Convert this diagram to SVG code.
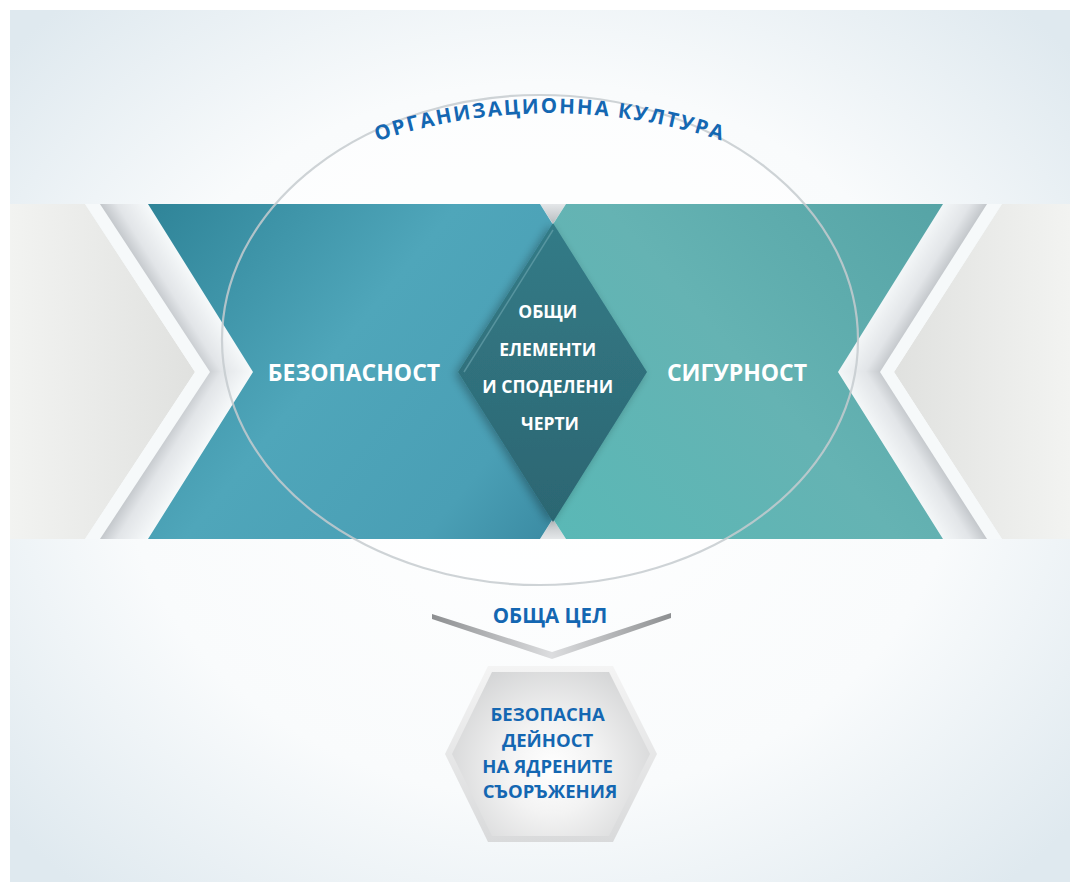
<svg xmlns="http://www.w3.org/2000/svg" width="1070" height="882" viewBox="0 0 1070 882">
  <defs>
    <style>
      .lbl { font-family: "Open Sans", "Noto Sans", "DejaVu Sans", sans-serif; font-weight: 700; }
      .white { fill: #ffffff; }
      .blue { fill: #1467b2; }
    </style>
    <radialGradient id="bg" cx="540" cy="440" r="700" gradientUnits="userSpaceOnUse" gradientTransform="translate(540 440) scale(1 0.85) translate(-540 -440)">
      <stop offset="0" stop-color="#ffffff"/>
      <stop offset="0.6" stop-color="#f9fbfc"/>
      <stop offset="1" stop-color="#dfe9ef"/>
    </radialGradient>
    <linearGradient id="greyL" x1="10" y1="0" x2="195" y2="0" gradientUnits="userSpaceOnUse">
      <stop offset="0" stop-color="#f2f3f1"/>
      <stop offset="1" stop-color="#e0e1df"/>
    </linearGradient>
    <linearGradient id="greyR" x1="1070" y1="0" x2="894" y2="0" gradientUnits="userSpaceOnUse">
      <stop offset="0" stop-color="#f2f3f1"/>
      <stop offset="1" stop-color="#e0e1df"/>
    </linearGradient>
    <!-- shaded ribbon halves, gradient runs across each slanted edge -->
    <linearGradient id="shLU" x1="100" y1="204" x2="134.5" y2="182.4" gradientUnits="userSpaceOnUse">
      <stop offset="0" stop-color="#c3c7cb"/>
      <stop offset="0.35" stop-color="#e2e5e8"/>
      <stop offset="1" stop-color="#f6f9fa"/>
    </linearGradient>
    <linearGradient id="shLD" x1="100" y1="539" x2="134.5" y2="560.6" gradientUnits="userSpaceOnUse">
      <stop offset="0" stop-color="#c3c7cb"/>
      <stop offset="0.35" stop-color="#e2e5e8"/>
      <stop offset="1" stop-color="#f6f9fa"/>
    </linearGradient>
    <linearGradient id="shRU" x1="987" y1="204" x2="952.5" y2="182.4" gradientUnits="userSpaceOnUse">
      <stop offset="0" stop-color="#c3c7cb"/>
      <stop offset="0.35" stop-color="#e2e5e8"/>
      <stop offset="1" stop-color="#f6f9fa"/>
    </linearGradient>
    <linearGradient id="shRD" x1="987" y1="539" x2="952.5" y2="560.6" gradientUnits="userSpaceOnUse">
      <stop offset="0" stop-color="#c3c7cb"/>
      <stop offset="0.35" stop-color="#e2e5e8"/>
      <stop offset="1" stop-color="#f6f9fa"/>
    </linearGradient>
    <linearGradient id="tealL" x1="150" y1="204" x2="560" y2="539" gradientUnits="userSpaceOnUse">
      <stop offset="0" stop-color="#2f8498"/>
      <stop offset="0.45" stop-color="#4fa6ba"/>
      <stop offset="0.8" stop-color="#4a9fb5"/>
      <stop offset="1" stop-color="#3a8aa2"/>
    </linearGradient>
    <linearGradient id="tealR" x1="940" y1="204" x2="560" y2="539" gradientUnits="userSpaceOnUse">
      <stop offset="0" stop-color="#56a4a6"/>
      <stop offset="0.5" stop-color="#65b3b3"/>
      <stop offset="1" stop-color="#5ab8b6"/>
    </linearGradient>
    <linearGradient id="notch" x1="0" y1="0" x2="0" y2="1">
      <stop offset="0" stop-color="#e4e7e9"/>
      <stop offset="1" stop-color="#b9bdc0"/>
    </linearGradient>
    <linearGradient id="notchB" x1="0" y1="1" x2="0" y2="0">
      <stop offset="0" stop-color="#e4e7e9"/>
      <stop offset="1" stop-color="#b9bdc0"/>
    </linearGradient>
    <linearGradient id="dia" x1="0" y1="0" x2="0" y2="1">
      <stop offset="0" stop-color="#337b87"/>
      <stop offset="1" stop-color="#2c6672"/>
    </linearGradient>
    <linearGradient id="wing" x1="432" y1="0" x2="671" y2="0" gradientUnits="userSpaceOnUse">
      <stop offset="0" stop-color="#8d8f91"/>
      <stop offset="0.5" stop-color="#dcdddf"/>
      <stop offset="1" stop-color="#8d8f91"/>
    </linearGradient>
    <radialGradient id="hexFace" cx="552" cy="768" r="115" gradientUnits="userSpaceOnUse">
      <stop offset="0" stop-color="#ffffff"/>
      <stop offset="0.4" stop-color="#f3f3f3"/>
      <stop offset="1" stop-color="#d3d4d5"/>
    </radialGradient>
    <linearGradient id="hexRim" x1="0" y1="0" x2="0" y2="1">
      <stop offset="0" stop-color="#f4f4f4"/>
      <stop offset="1" stop-color="#d9dadb"/>
    </linearGradient>
    <filter id="soft" x="-20%" y="-20%" width="140%" height="140%">
      <feGaussianBlur in="SourceAlpha" stdDeviation="5"/>
      <feOffset dx="-3" dy="2" result="b"/>
      <feComponentTransfer><feFuncA type="linear" slope="0.3"/></feComponentTransfer>
      <feMerge><feMergeNode/><feMergeNode in="SourceGraphic"/></feMerge>
    </filter>
  </defs>

  <!-- backdrop -->
  <rect x="0" y="0" width="1070" height="882" fill="#ffffff"/>
  <rect x="10" y="10" width="1060" height="872" fill="url(#bg)"/>
  <ellipse cx="540" cy="340" rx="318" ry="245" fill="#ffffff" fill-opacity="0.55"/>

  <!-- side chevrons -->
  <g id="side-left">
    <polygon points="10,204 85,204 195,372 85,539 10,539" fill="url(#greyL)"/>
    <polygon points="85,204 148,204 253,372 148,539 85,539 195,372" fill="#f6f9fa"/>
    <polygon points="100,204 148,204 253,372 210,372" fill="url(#shLU)"/>
    <polygon points="210,372 253,372 148,539 100,539" fill="url(#shLD)"/>
  </g>
  <g id="side-right">
    <polygon points="1070,204 1002,204 894,372 1002,539 1070,539" fill="url(#greyR)"/>
    <polygon points="1002,204 943,204 838,372 943,539 1002,539 894,372" fill="#f6f9fa"/>
    <polygon points="987,204 943,204 838,372 880,372" fill="url(#shRU)"/>
    <polygon points="880,372 838,372 943,539 987,539" fill="url(#shRD)"/>
  </g>

  <!-- notches between the two main shapes -->
  <polygon points="540,204 566,204 553,224" fill="url(#notch)"/>
  <polygon points="540,539 566,539 553,519" fill="url(#notchB)"/>

  <g id="node-safety">
    <polygon points="148,204 540,204 646,372 540,539 148,539 253,372" fill="url(#tealL)"/>
    <text class="lbl white" x="354" y="381" font-size="23" text-anchor="middle">БЕЗОПАСНОСТ</text>
  </g>

  <g id="node-security">
    <polygon points="566,204 943,204 838,372 943,539 566,539 458,372" fill="url(#tealR)"/>
    <text class="lbl white" x="737" y="381" font-size="23" text-anchor="middle">СИГУРНОСТ</text>
  </g>

  <g id="node-common">
    <polygon points="553,223 647,372 553,522 458,372" fill="url(#dia)" filter="url(#soft)"/>
    <polyline points="464,372 553,230" fill="none" stroke="#6fa9b2" stroke-width="1.5" stroke-opacity="0.6"/>
    <text class="lbl white" font-size="17.5" text-anchor="middle">
      <tspan x="550" y="318">ОБЩИ</tspan>
      <tspan x="550" y="356">ЕЛЕМЕНТИ</tspan>
      <tspan x="550" y="393">И СПОДЕЛЕНИ</tspan>
      <tspan x="550" y="430">ЧЕРТИ</tspan>
    </text>
  </g>

  <!-- culture ring -->
  <g id="node-culture">
    <ellipse cx="540" cy="340" rx="318" ry="245" fill="none" stroke="#c6cbcf" stroke-width="2.2" stroke-opacity="0.85"/>
    <path id="arc" d="M 340,155 A 549 549 0 0 1 760,155" fill="none"/>
    <text class="lbl blue" font-size="20.5" letter-spacing="1.9">
      <textPath href="#arc" startOffset="50%" text-anchor="middle">ОРГАНИЗАЦИОННА КУЛТУРА</textPath>
    </text>
  </g>

  <g id="connectors">
    <polygon points="432,614 552,652 671,613 671,618 552,659 432,619" fill="url(#wing)"/>
  </g>

  <g id="node-goal-label">
    <text class="lbl blue" x="550" y="623" font-size="20.5" text-anchor="middle">ОБЩА ЦЕЛ</text>
  </g>

  <g id="node-goal">
    <polygon points="488,666 613,666 657,754 613,842 488,842 445,754" fill="url(#hexRim)"/>
    <polygon points="492,672 609,672 650,754 609,836 492,836 452,754" fill="url(#hexFace)"/>
    <text class="lbl blue" font-size="18.5" text-anchor="middle">
      <tspan x="550" y="721">БЕЗОПАСНА</tspan>
      <tspan x="550" y="747">ДЕЙНОСТ</tspan>
      <tspan x="550" y="773">НА ЯДРЕНИТЕ</tspan>
      <tspan x="550" y="798">СЪОРЪЖЕНИЯ</tspan>
    </text>
  </g>
</svg>
